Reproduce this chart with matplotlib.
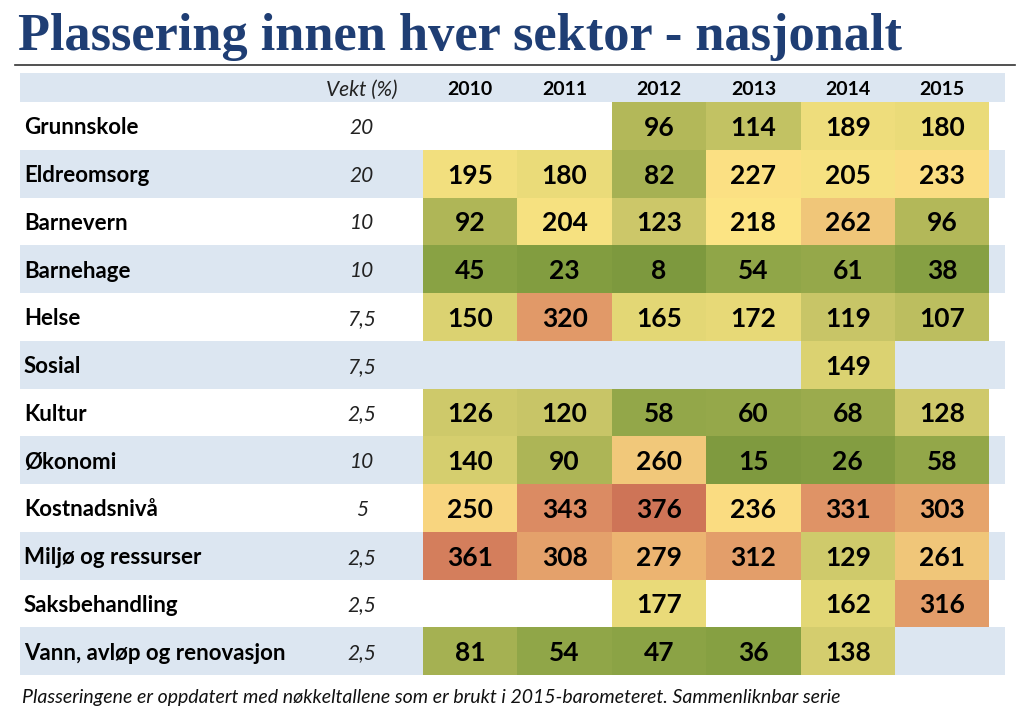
import matplotlib
matplotlib.use("Agg")
import matplotlib.pyplot as plt
import numpy as np
from matplotlib.colors import LinearSegmentedColormap, Normalize
from matplotlib.patches import Rectangle

# data
years = ['2010', '2011', '2012', '2013', '2014', '2015']
sectors = ['Grunnskole', 'Eldreomsorg', 'Barnevern', 'Barnehage', 'Helse', 'Sosial',
           'Kultur', 'Økonomi', 'Kostnadsnivå', 'Miljø og ressurser',
           'Saksbehandling', 'Vann, avløp og renovasjon']
weights = ['20', '20', '10', '10', '7,5', '7,5', '2,5', '10', '5', '2,5', '2,5', '2,5']
N = None
ranks = [
    [N, N, 96, 114, 189, 180],
    [195, 180, 82, 227, 205, 233],
    [92, 204, 123, 218, 262, 96],
    [45, 23, 8, 54, 61, 38],
    [150, 320, 165, 172, 119, 107],
    [N, N, N, N, 149, N],
    [126, 120, 58, 60, 68, 128],
    [140, 90, 260, 15, 26, 58],
    [250, 343, 376, 236, 331, 303],
    [361, 308, 279, 312, 129, 261],
    [N, N, 177, N, 162, 316],
    [81, 54, 47, 36, 138, N],
]

title = 'Plassering innen hver sektor - nasjonalt'
note = 'Plasseringene er oppdatert med nøkkeltallene som er brukt i 2015-barometeret. Sammenliknbar serie'

# excel-like green / yellow / red scale
vmin, vmax = 8, 376
stops = [(8, (125, 153, 62)), (45, (137, 162, 68)), (90, (173, 181, 86)),
         (125, (205, 200, 106)), (160, (225, 214, 116)), (218, (252, 228, 132)),
         (250, (248, 214, 127)), (262, (240, 198, 121)), (279, (236, 180, 113)),
         (310, (228, 160, 107)), (343, (220, 140, 99)), (376, (206, 116, 87))]
cmap = LinearSegmentedColormap.from_list(
    'rank', [((v - vmin) / (vmax - vmin), tuple(c / 255 for c in rgb)) for v, rgb in stops])

blue = '#dce6f1'
navy = '#1f3e74'

fig = plt.figure(figsize=(10.23, 7.22), dpi=100)
ax = fig.add_axes([0, 0, 1, 1])
ax.set_xlim(0, 1023)
ax.set_ylim(722, 0)
ax.axis('off')

# layout in pixels
left, right = 20, 1005
head_top, top, row_h = 73, 102, 47.75
x0, col_w = 423, 94.4
weight_x = 362

# header + banded rows
ax.add_patch(Rectangle((left, head_top), right - left, top - head_top, color=blue, lw=0))
for i in range(len(sectors)):
    if i % 2 == 1:
        ax.add_patch(Rectangle((left, top + i * row_h), right - left, row_h, color=blue, lw=0))

# heat cells
vals = np.array([[np.nan if v is None else v for v in r] for r in ranks], dtype=float)
xe = x0 + col_w * np.arange(len(years) + 1)
ye = top + row_h * np.arange(len(sectors) + 1)
ax.pcolormesh(xe, ye, np.ma.masked_invalid(vals), cmap=cmap,
              norm=Normalize(vmin, vmax), shading='flat', zorder=2)

font = 'Lato'
hy = (head_top + top) / 2 + 2
ax.text(weight_x, hy, 'Vekt (%)', ha='center', va='center', fontsize=15,
        style='italic', family=font, color='#222222', zorder=3)
for j, y in enumerate(years):
    ax.text(x0 + col_w * (j + 0.5), hy, y, ha='center', va='center',
            fontsize=14, fontweight='bold', family=font, zorder=3)

for i, name in enumerate(sectors):
    cy = top + row_h * (i + 0.5) + 2
    ax.text(24, cy, name, ha='left', va='center', fontsize=16,
            fontweight='bold', family=font, zorder=3)
    ax.text(weight_x, cy, weights[i], ha='center', va='center', fontsize=15,
            style='italic', family=font, color='#222222', zorder=3)
    for j, v in enumerate(ranks[i]):
        if v is not None:
            ax.text(x0 + col_w * (j + 0.5), cy, str(v), ha='center', va='center',
                    fontsize=19, fontweight='bold', family=font, zorder=3)

ax.text(22, 698, note, ha='left', va='center', fontsize=14, style='italic',
        family=font, color='#111111')

# title, scaled to span the same width
t = ax.text(18, 50, title, ha='left', va='baseline', fontsize=32,
            fontweight='bold', family='Liberation Serif', color=navy)
fig.canvas.draw()
w = t.get_window_extent(fig.canvas.get_renderer()).width
t.set_fontsize(32 * 887 / w)

ax.plot([15, 1015], [65, 65], color='#333333', lw=1.2)

fig.savefig('out.png', dpi=100)
